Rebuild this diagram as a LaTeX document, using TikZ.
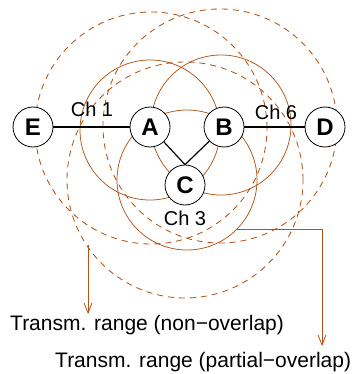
\documentclass[tikz,border=0pt]{standalone}
\usepackage{fontspec}
\setmainfont{Liberation Sans}
\usetikzlibrary{arrows.meta}
\definecolor{rng}{RGB}{176,84,24}
\begin{document}
\begin{tikzpicture}[x=1pt,y=-1pt,
  station/.style={circle,draw=black,fill=white,line width=0.8pt,minimum size=40pt,inner sep=0pt,font=\fontsize{24}{28}\selectfont\bfseries},
  link/.style={draw=black,line width=1.2pt},
  solidrange/.style={draw=rng,line width=0.75pt},
  dashrange/.style={draw=rng,line width=0.85pt,dash pattern=on 6pt off 5pt},
  pointer/.style={draw=rng,line width=0.8pt,-{Straight Barb[length=10pt,width=8pt]}},
  chlbl/.style={font=\fontsize{20}{24}\selectfont,inner sep=0pt,anchor=base},
  rnglbl/.style={font=\fontsize{21}{25}\selectfont,inner sep=0pt,anchor=base west}]
\useasboundingbox (0,0) rectangle (351,374);
% partial-overlap ranges (dashed)
\draw[dashrange] (151,128) circle[radius=116pt];
\draw[dashrange] (220,126) circle[radius=117pt];
\draw[dashrange] (185,180) circle[radius=118pt];
% non-overlap ranges (solid)
\draw[solidrange] (150,130) circle[radius=70pt];
\draw[solidrange] (221,125) circle[radius=70pt];
\draw[solidrange] (187,180) circle[radius=70pt];
% nodes
\node[station] (E) at (33,127) {E};
\node[station] (A) at (150,127) {A};
\node[station] (B) at (224,127) {B};
\node[station] (D) at (325,127) {D};
\node[station] (C) at (185,185) {C};
% links
\draw[link] (E) -- (A);
\draw[link] (B) -- (D);
\draw[link] (A) -- (C.north);
\draw[link] (B) -- (C.north);
% channel labels
\node[chlbl] (ch1) at (92,117) {Ch 1};
\node[chlbl] (ch6) at (276,120) {Ch 6};
\node[chlbl] (ch3) at (185,225) {Ch 3};
% pointers
\coordinate (p1) at (88,245);
\coordinate (p1e) at (88,314);
\coordinate (p2) at (237,229);
\coordinate (p2c) at (322,229);
\coordinate (p2e) at (322,346);
\draw[pointer] (p1) -- (p1e);
\draw[pointer] (p2) -- (p2c) -- (p2e);
\node[rnglbl] (l1) at (10,330) {Transm. range (non−overlap)};
\node[rnglbl] (l2) at (55,367) {Transm. range (partial−overlap)};
\end{tikzpicture}
\end{document}
